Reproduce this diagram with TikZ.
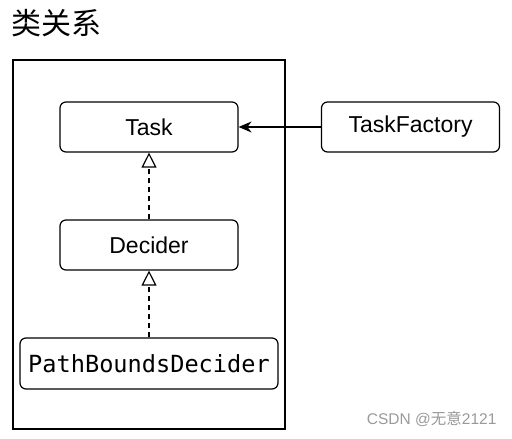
\documentclass[tikz,border=0pt]{standalone}
\usepackage{fontspec}
\setmainfont{Liberation Sans}
\newfontfamily\monofont{DejaVu Sans Mono}
\newfontfamily\cjkfont{Noto Sans CJK SC}
\usepackage{xcolor}
\usepackage{tikz}
\usetikzlibrary{arrows.meta}
\usetikzlibrary{positioning}
\tikzset{realize/.style={dash pattern=on 5pt off 4pt, -{Triangle[open,length=15pt,width=15pt]}}}

\begin{document}
\begin{tikzpicture}[x=1pt,y=1pt,node distance=118pt,line width=1.2pt]
			\tikzstyle{every node}=[font=\fontsize{23}{26}\selectfont]
			\tikzstyle{classbox}=[draw, rounded corners=6pt, minimum width=178pt, minimum height=50pt, inner sep=0pt]
			\useasboundingbox (0,0) rectangle (512,439);
			\node[anchor=base west, inner sep=0pt, font=\cjkfont\fontsize{30}{32}\selectfont] (title) at (11,404) {类关系};
			\draw (13,10) rectangle (285,379);
			\node[classbox]  (task) at (149,312) {Task};
			\node[classbox]  (factory) [right of=task, node distance=261.5pt] {TaskFactory};
			\node[classbox]  (decider) [below of=task] {Decider};
			\node[classbox, minimum width=258pt, minimum height=51pt, font=\monofont\fontsize{23.6}{26}\selectfont]  (pbd) [below of=decider, node distance=118.5pt] {PathBoundsDecider};
			\draw[-{Stealth[length=13pt,width=11pt]}] (factory) -- (task);
			\draw[realize] (decider) -- (task);
			\draw[realize] (pbd) -- (decider);
			\node[anchor=base east, inner sep=0pt, text=gray!80, font=\fontsize{15.5}{17}\selectfont] (mark) at (497,14) {CSDN @{\cjkfont 无意}2121};
\end{tikzpicture}
\end{document}
